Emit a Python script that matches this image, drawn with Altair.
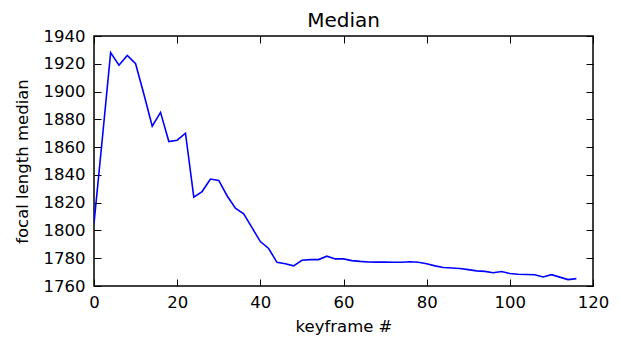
import altair as alt
import pandas as pd

keyframes = list(range(0, 118, 2))
medians = [1805, 1866, 1928, 1919, 1926, 1920, 1898, 1875, 1885, 1864,
           1865, 1870, 1824, 1828, 1837, 1836, 1825, 1816, 1812, 1802,
           1792, 1787, 1777, 1776, 1774.5, 1778.5, 1779, 1779, 1781.5, 1779.5,
           1779.5, 1778.3, 1777.7, 1777.3, 1777.2, 1777.2, 1777.1, 1777.1, 1777.5, 1777.1,
           1776, 1774.5, 1773.3, 1773, 1772.6, 1771.8, 1770.9, 1770.5, 1769.5, 1770.4,
           1769, 1768.5, 1768.3, 1768.1, 1766.5, 1768.2, 1766.4, 1764.6, 1765.3]

x_ticks = [0, 20, 40, 60, 80, 100, 120]
y_ticks = [1760, 1780, 1800, 1820, 1840, 1860, 1880, 1900, 1920, 1940]
chart_title = "Median"

df = pd.DataFrame({"keyframe": keyframes, "median": medians})

FONT = "DejaVu Sans"
FS = 16.5
xscale = alt.Scale(domain=[0, 120], nice=False, zero=False)
yscale = alt.Scale(domain=[1760, 1940], nice=False, zero=False)

main = alt.Chart(df).mark_line(color="#0000ff", strokeWidth=1.6, clip=True).encode(
    x=alt.X("keyframe:Q", scale=xscale,
            axis=alt.Axis(orient="bottom", values=x_ticks, title="keyframe #", format="d",
                          domain=False, grid=False, tickSize=7, offset=-7, labelFlush=False,
                          tickColor="black", labelColor="black", labelFont=FONT,
                          labelFontSize=FS, labelPadding=8, titleFont=FONT,
                          titleFontSize=FS, titleFontWeight="normal", titleColor="black",
                          titleBaseline="alphabetic", titleY=52)),
    y=alt.Y("median:Q", scale=yscale,
            axis=alt.Axis(orient="left", values=y_ticks, title="focal length median", format="d",
                          domain=False, grid=False, tickSize=7, offset=-7, labelFlush=False,
                          tickColor="black", labelColor="black", labelFont=FONT,
                          labelFontSize=FS, labelPadding=9, titleFont=FONT,
                          titleFontSize=FS, titleFontWeight="normal", titleColor="black",
                          titleBaseline="middle", titleX=-79, titleY=125)),
)

mirror = alt.Chart(df).mark_line(opacity=0).encode(
    x=alt.X("keyframe:Q", scale=xscale,
            axis=alt.Axis(orient="top", values=x_ticks, title=None, labels=False,
                          domain=False, grid=False, tickSize=7, offset=-7,
                          tickColor="black")),
    y=alt.Y("median:Q", scale=yscale,
            axis=alt.Axis(orient="right", values=y_ticks, title=None, labels=False,
                          domain=False, grid=False, tickSize=7, offset=-7,
                          tickColor="black")),
)

title_text = alt.Chart(alt.Data(values=[{"t": chart_title}])).mark_text(
    font=FONT, fontSize=20, color="black", align="center", baseline="alphabetic"
).encode(x=alt.value(249.5), y=alt.value(-9), text="t:N")

chart = alt.layer(main, mirror, title_text).resolve_axis(
    x="independent", y="independent"
).properties(
    width=499, height=250,
    autosize=alt.AutoSizeParams(type="none"),
    padding={"left": 86, "top": 28, "right": 20, "bottom": 53},
).configure_view(stroke="black", strokeWidth=1.5)

chart.save("out.html", embed_options={"renderer": "svg", "actions": False})
